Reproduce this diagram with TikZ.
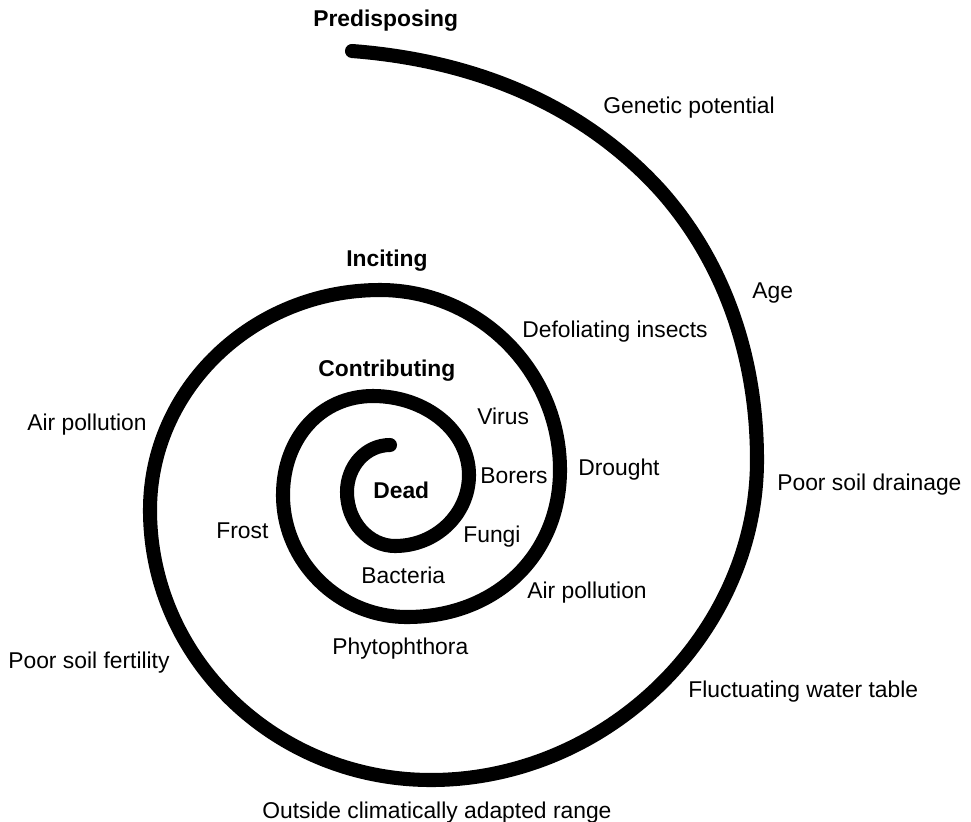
\documentclass[tikz,border=0pt]{standalone}
\usepackage{fontspec}
\setmainfont{Liberation Sans}
\tikzset{
  spiral/.style={line width=8pt, line cap=round, line join=round},
  factor/.style={font=\fontsize{13}{15}\selectfont, anchor=base west, inner sep=0pt},
  stage/.style={factor, font=\fontsize{13}{15}\selectfont\bfseries}
}
\begin{document}
\begin{tikzpicture}[x=0.02cm,y=-0.02cm]
  \useasboundingbox (0,0) rectangle (971,822);
  % the spiral, drawn from the outer end inwards, a quarter turn at a time
  \draw[spiral] (352,51)
    .. controls (482,61) and (586,109) .. (660,190)
    .. controls (720,257) and (757,350) .. (757,460)
    .. controls (757,633) and (607,780) .. (431,780)
    .. controls (276,780) and (150,659) .. (150,510)
    .. controls (150,389) and (253,290) .. (380,290)
    .. controls (479,290) and (560,371) .. (560,470)
    .. controls (560,555) and (496,617) .. (407,617)
    .. controls (339,617) and (283,562) .. (283,495)
    .. controls (283,438) and (321,396) .. (373,396)
    .. controls (426,396) and (469,431) .. (469,475)
    .. controls (469,514) and (436,546) .. (395,546)
    .. controls (369,546) and (347,522) .. (347,492)
    .. controls (347,466) and (366,445) .. (390,445);
  % stages
  \node[stage] (pred) at (313,26) {Predisposing};
  \node[stage] (inc) at (346,266) {Inciting};
  \node[stage] (contr) at (318,376) {Contributing};
  \node[stage] (dead) at (373,498) {Dead};
  % factors
  \node[factor] (genetic) at (603,113) {Genetic potential};
  \node[factor] (age) at (752,298) {Age};
  \node[factor] (drain) at (777,490) {Poor soil drainage};
  \node[factor] (water) at (688,697) {Fluctuating water table};
  \node[factor] (range) at (262,818) {Outside climatically adapted range};
  \node[factor] (fert) at (8,668) {Poor soil fertility};
  \node[factor] (airL) at (27,430) {Air pollution};
  \node[factor] (defol) at (522,337) {Defoliating insects};
  \node[factor] (drought) at (578,475) {Drought};
  \node[factor] (airR) at (527,598) {Air pollution};
  \node[factor] (phyto) at (332,654) {Phytophthora};
  \node[factor] (frost) at (216,538) {Frost};
  \node[factor] (virus) at (477,424) {Virus};
  \node[factor] (borers) at (480,483) {Borers};
  \node[factor] (fungi) at (463,542) {Fungi};
  \node[factor] (bact) at (361,583) {Bacteria};
\end{tikzpicture}
\end{document}
